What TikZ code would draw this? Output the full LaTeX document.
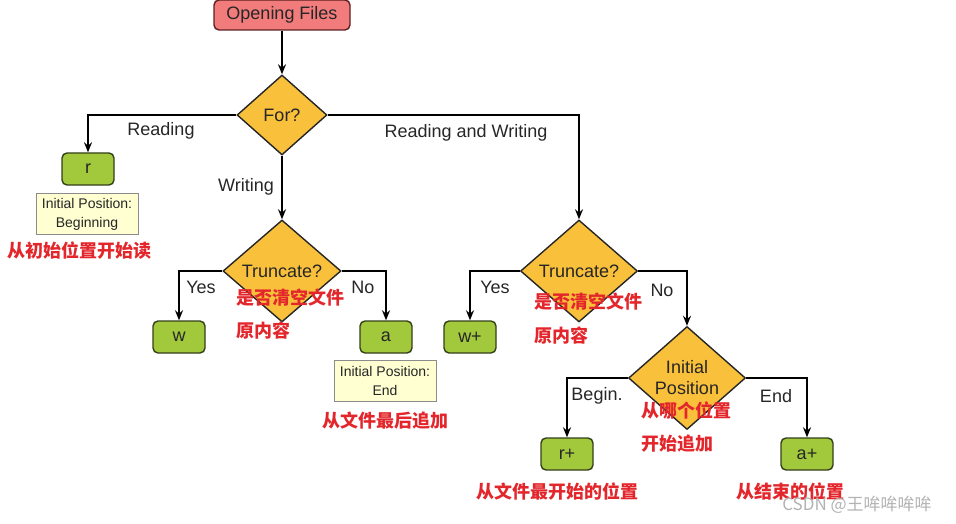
\documentclass[tikz,border=0pt]{standalone}
\usepackage{fontspec}
\setmainfont{Liberation Sans}
\newfontfamily\cjk{Noto Sans CJK SC}
\usetikzlibrary{arrows.meta,shapes}

\definecolor{startred}{HTML}{F27C7C}
\definecolor{startline}{HTML}{5E2020}
\definecolor{askyellow}{HTML}{F9C03C}
\definecolor{modegreen}{HTML}{A2C83C}
\definecolor{modeline}{HTML}{34401A}
\definecolor{noteyellow}{HTML}{FFFFD2}
\definecolor{notered}{HTML}{E3262B}

\begin{document}
\begin{tikzpicture}[x=1pt,y=-1pt,->,>={Stealth[length=10pt,width=8pt]},line width=1.4pt,
    font=\fontsize{18}{21}\selectfont,
    startbox/.style={rectangle,rounded corners=5pt,draw=startline,fill=startred,minimum width=136pt,minimum height=30pt,text=black!85},
    ask/.style={diamond,draw=black!85,fill=askyellow,inner sep=0pt,text=black!85,align=center,font=\fontsize{18}{21}\selectfont},
    mode/.style={rectangle,rounded corners=5pt,draw=modeline,fill=modegreen,minimum width=52pt,minimum height=32pt,text=black!85},
    note/.style={rectangle,draw=black!45,line width=0.7pt,fill=noteyellow,minimum width=102pt,minimum height=41pt,align=center,font=\fontsize{14}{19}\selectfont,text=black!85},
    lbl/.style={text=black!85},
    zh/.style={text=notered,font=\cjk\bfseries\fontsize{18}{20}\selectfont}]
    \useasboundingbox (0,0) rectangle (956,524);

    \node[startbox](Start)at(282, 15){Opening Files};
    \node[ask,minimum width=90pt,minimum height=80pt](For)at(282, 115){For?};
    \node[mode](r)at(88, 169){r};
    \node[note](noteBegin)at(87, 214){Initial Position:\\Beginning};
    \node[ask,minimum width=118pt,minimum height=102pt](TruncW)at(282, 271){Truncate?};
    \node[mode](w)at(179, 337){w};
    \node[mode](a)at(386, 337){a};
    \node[note](noteEnd)at(385, 381){Initial Position:\\End};
    \node[ask,minimum width=117pt,minimum height=102pt](TruncRW)at(579, 271){Truncate?};
    \node[mode](wplus)at(470, 337){w+};
    \node[ask,minimum width=117pt,minimum height=103pt](Pos)at(687, 378){Initial\\Position};
    \node[mode](rplus)at(567, 454){r+};
    \node[mode](aplus)at(807, 454){a+};

    % branch labels
    \node[lbl](lRead)at(161, 131){Reading};
    \node[lbl](lWrite)at(246, 187){Writing};
    \node[lbl](lReadWrite)at(466, 133){Reading and Writing};
    \node[lbl](lYes)at(201, 287){Yes};
    \node[lbl](lNo)at(363, 287){No};
    \node[lbl](lYes2)at(495, 287){Yes};
    \node[lbl](lNo2)at(662, 290){No};
    \node[lbl](lBegin)at(597, 396){Begin.};
    \node[lbl](lEnd)at(776, 396){End};

    % notes in red
    \node[zh](zhRead)at(80, 251){从初始位置开始读};
    \node[zh,anchor=west](zhTrunc)at(232, 298){是否清空文件};
    \node[zh,anchor=west](zhTrunc2)at(232, 331){原内容};
    \node[zh](zhAppend)at(385, 421){从文件最后追加};
    \node[zh,anchor=west](zhTrunc3)at(530, 302){是否清空文件};
    \node[zh,anchor=west](zhTrunc4)at(530, 336){原内容};
    \node[zh,anchor=west](zhWhere)at(637, 411){从哪个位置};
    \node[zh,anchor=west](zhWhere2)at(637, 444){开始追加};
    \node[zh](zhFirst)at(557, 492){从文件最开始的位置};
    \node[zh](zhLast)at(790, 491){从结束的位置};
    \node[text=black!30,font=\cjk\fontsize{17}{20}\selectfont](mark)at(857, 505){CSDN @王哞哞哞哞};

    \path[](Start) edge (For)
    (For) edge (TruncW);
    \draw (For.west) -| (r);
    \draw (For.east) -| (TruncRW);
    \draw (TruncW.west) -| (w);
    \draw (TruncW.east) -| (a);
    \draw (TruncRW.west) -| (wplus);
    \draw (TruncRW.east) -| (Pos);
    \draw (Pos.west) -| (rplus);
    \draw (Pos.east) -| (aplus);
\end{tikzpicture}
\end{document}
